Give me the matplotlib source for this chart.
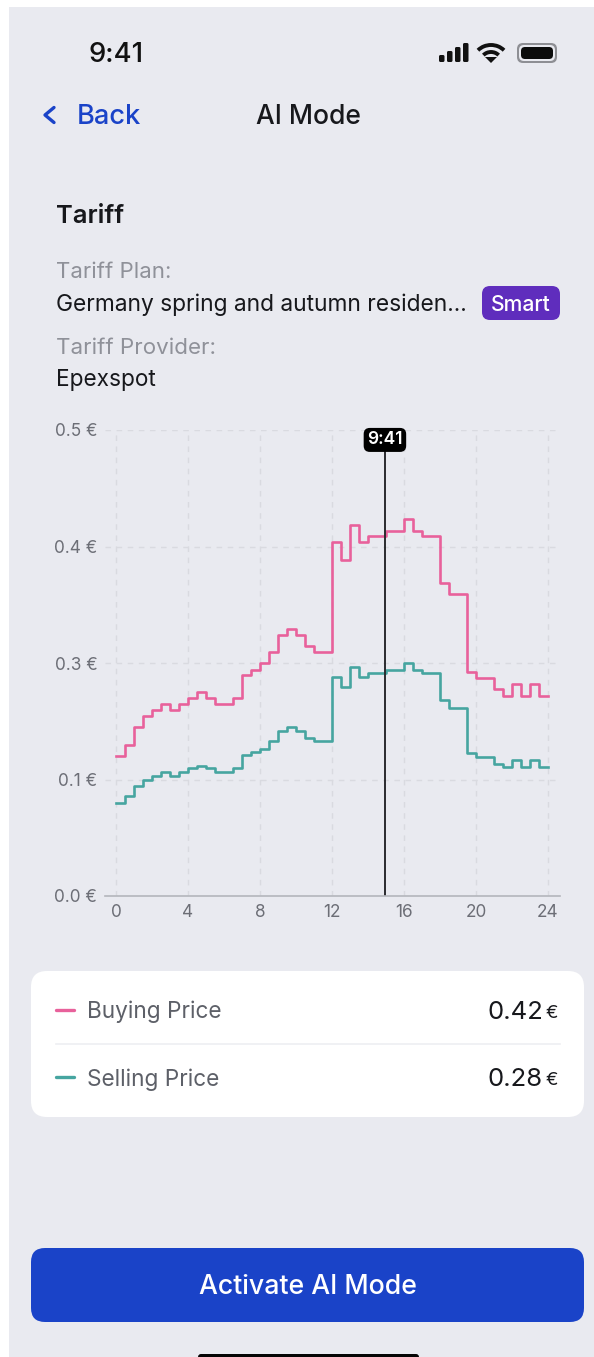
import numpy as np
import matplotlib
matplotlib.use('Agg')
import matplotlib.pyplot as plt
from matplotlib.patches import FancyBboxPatch, Rectangle, Arc, Polygon

plt.rcParams['font.family'] = ['Inter', 'DejaVu Sans']

# half hourly prices
buying_price = [.150, .162, .181, .193, .200, .206, .200, .206, .212, .219, .212, .206,
                .206, .212, .237, .243, .250, .262, .280, .287, .280, .268, .262, .262,
                .380, .361, .398, .380, .386, .386, .392, .392, .405, .392, .386, .386,
                .336, .324, .324, .240, .234, .234, .222, .215, .228, .215, .228, .215]
selling_price = [.100, .107, .118, .125, .129, .133, .129, .133, .137, .140, .137, .133,
                 .133, .137, .151, .155, .158, .166, .177, .181, .177, .170, .166, .166,
                 .235, .224, .246, .235, .239, .239, .243, .243, .250, .243, .239, .239,
                 .210, .202, .202, .153, .149, .149, .142, .138, .146, .138, .146, .138]
hours = np.arange(0, 24.5, 0.5)
x_ticks = [0, 4, 8, 12, 16, 20, 24]
y_ticks = [0, 0.125, 0.25, 0.375, 0.5]
y_labels = ['0.0 €', '0.1 €', '0.3 €', '0.4 €', '0.5 €']
now_hour = 14.94

W, H = 594, 1357
BG = '#e9eaf0'
PINK = '#e8619b'
TEAL = '#46a5a0'
BLUE = '#1a43c8'
PURPLE = '#5f2dbd'

fig = plt.figure(figsize=(W / 100, H / 100), dpi=100, facecolor='white')

# whole figure layer in pixels for the phone screen
ui = fig.add_axes([0, 0, 1, 1], zorder=0)
ui.set_xlim(0, W)
ui.set_ylim(H, 0)
ui.axis('off')
ui.add_patch(Rectangle((9, 7), W - 9, H - 7, color=BG, lw=0))


def rounded(x, y, w, h, r, color):
    ui.add_patch(FancyBboxPatch((x + r, y + r), w - 2 * r, h - 2 * r,
                                boxstyle=f'round,pad={r},rounding_size={r}',
                                fc=color, ec='none', lw=0))


def label(x, y, s, size, color='#17181c', weight='normal', ha='left'):
    ui.text(x, y + 1.5, s, fontsize=size, color=color, fontweight=weight, ha=ha, va='center')


# status bar
label(89, 54, '9:41', 19.8, '#111111', 'medium')
for bx, top in zip([439, 447, 455, 463], [55, 51, 47, 43]):
    rounded(bx, top, 5.5, 62 - top, 1.5, '#111111')
ui.add_patch(Arc((491, 62), 36, 34, theta1=222, theta2=318, color='#111111', lw=2.8))
ui.add_patch(Arc((491, 62), 21, 20, theta1=222, theta2=318, color='#111111', lw=2.8))
ui.add_patch(Polygon([[485, 57], [497, 57], [491, 63]], color='#111111', lw=0))
rounded(517, 43, 40, 20, 6, '#8e8f94')
rounded(519, 45, 36, 16, 5, BG)
rounded(521, 47, 32, 12, 4, '#0c0c0c')

# nav bar
ui.plot([54, 45, 54], [107.5, 115, 122.5], color=BLUE, lw=2.4, solid_capstyle='round')
label(77, 116, 'Back', 19.6, BLUE, 'medium')
label(308, 116, 'AI Mode', 19, '#17181c', 'medium', ha='center')

# tariff block
label(56, 215, 'Tariff', 18.3, '#17181c', 'semibold')
label(56, 271, 'Tariff Plan:', 16, '#8f9199')
label(56, 303, 'Germany spring and autumn residen...', 16.4)
rounded(482, 286, 78, 34, 8, PURPLE)
label(521, 303.5, 'Smart', 15.2, 'white', 'medium', ha='center')
label(56, 347, 'Tariff Provider:', 16.1, '#8f9199')
label(56, 378.5, 'Epexspot', 16.3)

# legend card
rounded(31, 971, 553, 146, 16, 'white')
ui.plot([56, 560], [1044, 1044], color='#eeeff2', lw=1.2)
ui.plot([56, 74], [1010, 1010], color=PINK, lw=2.4, solid_capstyle='round')
ui.plot([56, 74], [1077, 1077], color=TEAL, lw=2.4, solid_capstyle='round')
label(87, 1010, 'Buying Price', 16.3, '#5d6068')
label(87, 1078, 'Selling Price', 16.3, '#5d6068')
label(543, 1011, '0.42', 18.5, '#17181c', ha='right')
label(546, 1012, '€', 13.5, '#17181c')
label(543, 1078, '0.28', 18.5, '#17181c', ha='right')
label(546, 1079, '€', 13.5, '#17181c')

# button and home bar
rounded(31, 1248, 553, 74, 14, BLUE)
label(308, 1286, 'Activate AI Mode', 19.2, 'white', 'medium', ha='center')
rounded(198, 1354, 221, 12, 3, '#050505')

# price chart
ax_left, ax_right, ax_top, ax_bottom = 105, 560, 430, 896
ax = fig.add_axes([ax_left / W, 1 - ax_bottom / H, (ax_right - ax_left) / W, (ax_bottom - ax_top) / H],
                  zorder=1)
ax.patch.set_alpha(0)
ax.set_xlim(-(116 - ax_left) / 18, 24 + (ax_right - 548) / 18)
ax.set_ylim(0, 0.5)
ax.set_xticks(x_ticks)
ax.set_yticks(y_ticks)
ax.set_yticklabels(y_labels, va='center_baseline')
ax.grid(True, color='#d9dae0', lw=1, ls=(0, (4, 4)))
ax.set_axisbelow(True)
for side in ['top', 'right', 'left']:
    ax.spines[side].set_visible(False)
ax.spines['bottom'].set_color('#b4b6bc')
ax.spines['bottom'].set_linewidth(1.2)
ax.tick_params(axis='x', length=0, labelsize=12.4, labelcolor='#6c6e76', pad=5.5)
ax.tick_params(axis='y', length=0, labelsize=12.4, labelcolor='#6c6e76', pad=5.5)

ax.step(hours, buying_price + buying_price[-1:], where='post', color=PINK, lw=1.9)
ax.step(hours, selling_price + selling_price[-1:], where='post', color=TEAL, lw=1.9)
ax.plot([now_hour, now_hour], [0, 0.49], color='#2a2a2e', lw=1.4)
ax.text(now_hour, 0.4915, '9:41', fontsize=12.6, color='white', fontweight='semibold', ha='center',
        va='center_baseline', clip_on=False,
        bbox=dict(boxstyle='round,pad=0.2,rounding_size=0.35', fc='black', ec='none'))

fig.savefig('out.png', dpi=100, facecolor='white')
